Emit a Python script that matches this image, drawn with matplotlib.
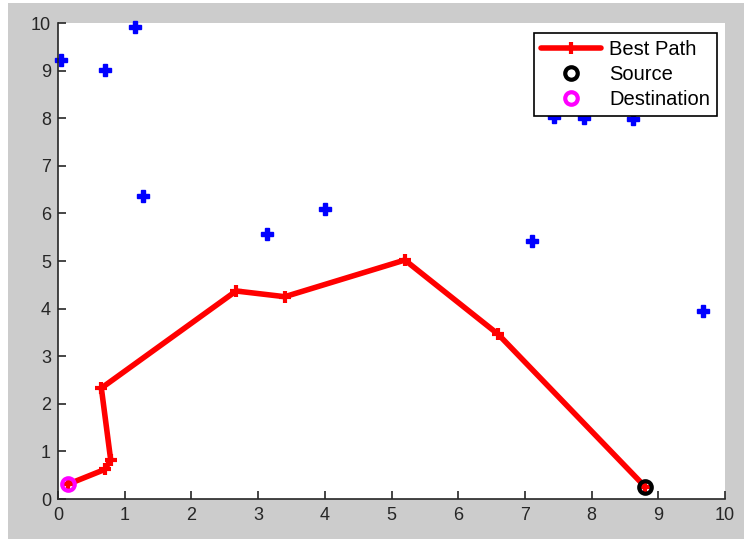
import matplotlib
matplotlib.use("Agg")
from matplotlib import pyplot as plt
from matplotlib.patches import Rectangle

plt.rcParams['font.family'] = ['Liberation Sans', 'DejaVu Sans']

# nodos de la red (azul)
nodos_x = [0.05, 0.71, 1.15, 1.27, 3.13, 4.01, 7.10, 7.43, 7.89, 8.62, 9.67]
nodos_y = [9.22, 9.01, 9.92, 6.37, 5.56, 6.09, 5.41, 8.03, 8.00, 7.98, 3.94]

# mejor camino (de destino a fuente)
camino_x = [0.15, 0.70, 0.79, 0.65, 2.67, 3.40, 5.20, 6.60, 8.80]
camino_y = [0.31, 0.62, 0.82, 2.33, 4.37, 4.25, 5.02, 3.46, 0.26]

fuente = (8.80, 0.26)
destino = (0.15, 0.31)

ticks = list(range(0, 11))

fig = plt.figure(figsize=(7.44, 5.39), dpi=100)
fig.patch.set_facecolor('white')
# fondo gris estilo MATLAB
fig.patches.append(Rectangle((8 / 744, 0), 1, 1 - 3 / 539, transform=fig.transFigure,
                             facecolor='#cccccc', edgecolor='none', zorder=-10))

ax = fig.add_axes([58 / 744, 1 - 499 / 539, 667 / 744, 476 / 539])
ax.set_facecolor('white')

ax.plot(nodos_x, nodos_y, linestyle='none', marker='P', markersize=9,
        color='blue', markeredgecolor='blue', clip_on=False, zorder=2)
ax.plot(camino_x, camino_y, color='red', linewidth=4, marker='+', markersize=9,
        markeredgewidth=3, label='Best Path', zorder=3, solid_capstyle='round')
ax.plot([fuente[0]], [fuente[1]], linestyle='none', marker='o', markersize=9,
        markerfacecolor='none', markeredgecolor='black', markeredgewidth=3,
        label='Source', zorder=4)
ax.plot([destino[0]], [destino[1]], linestyle='none', marker='o', markersize=9,
        markerfacecolor='none', markeredgecolor='magenta', markeredgewidth=3,
        label='Destination', zorder=4)

ax.set_xlim(0, 10)
ax.set_ylim(0, 10)
ax.set_xticks(ticks)
ax.set_yticks(ticks)
ax.tick_params(direction='in', length=6, width=1.2, colors='#262626',
               labelsize=13, top=False, right=False)
ax.tick_params(axis='x', pad=6)
ax.tick_params(axis='y', pad=5)
for lado in ['top', 'right']:
    ax.spines[lado].set_visible(False)
for lado in ['left', 'bottom']:
    ax.spines[lado].set_linewidth(1.2)
    ax.spines[lado].set_color('#262626')

leg = ax.legend(loc='upper right', bbox_to_anchor=(717.3 / 744, 1 - 32.7 / 539),
                bbox_transform=fig.transFigure, fontsize=14.5, frameon=True,
                fancybox=False, edgecolor='black', framealpha=1,
                borderpad=0.35, labelspacing=0.3, handlelength=3.0,
                handletextpad=0.4, borderaxespad=0)
leg.get_frame().set_linewidth(1.2)
leg.set_zorder(10)

fig.savefig('out.png', dpi=100, facecolor=fig.get_facecolor())
